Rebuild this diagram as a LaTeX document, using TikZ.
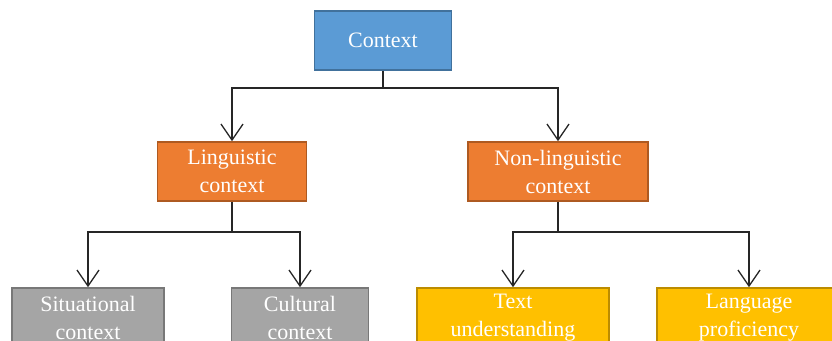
\documentclass[tikz,border=0pt]{standalone}
\usepackage{fontspec}
\setmainfont{Liberation Serif}
\usetikzlibrary{arrows.meta}
\definecolor{cblue}{HTML}{5B9BD5}
\definecolor{cblueD}{HTML}{41719C}
\definecolor{corange}{HTML}{ED7D31}
\definecolor{corangeD}{HTML}{AE5A21}
\definecolor{cgray}{HTML}{A5A5A5}
\definecolor{cgrayD}{HTML}{787878}
\definecolor{cyellow}{HTML}{FFC000}
\definecolor{cyellowD}{HTML}{BC8C00}
\definecolor{lineC}{HTML}{262626}
\tikzset{
  box/.style={draw, line width=1.6pt, minimum height=59pt, inner sep=0pt,
    align=center, text=white, font=\fontsize{22}{28}\selectfont},
  bluebox/.style={box, fill=cblue, draw=cblueD},
  orangebox/.style={box, fill=corange, draw=corangeD},
  graybox/.style={box, fill=cgray, draw=cgrayD},
  yellowbox/.style={box, fill=cyellow, draw=cyellowD},
  conn/.style={draw=lineC, line width=1.4pt},
  arr/.style={conn, -{Straight Barb[length=16pt,width=22pt,line width=1.3pt]}}
}
\begin{document}
\begin{tikzpicture}[x=1pt,y=-1pt]
\useasboundingbox (0,0) rectangle (832,340);
\clip (0,0) rectangle (832,340);
\node[bluebox, minimum width=137pt] (ctx) at (383,40.5) {Context};
\node[orangebox, minimum width=149pt] (ling) at (232,171.5) {Linguistic\\context};
\node[orangebox, minimum width=180pt] (nonling) at (558,171.5) {Non-linguistic\\context};
\node[graybox, minimum width=152pt] (sit) at (88,317.5) {Situational\\context};
\node[graybox, minimum width=137pt] (cul) at (300,317.5) {Cultural\\context};
\node[yellowbox, minimum width=192pt] (txt) at (513,317.5) {Text\\understanding};
\node[yellowbox, minimum width=184pt] (lang) at (749,317.5) {Language\\proficiency};
\coordinate (j1) at (383,88);
\coordinate (j2) at (232,232);
\coordinate (j3) at (558,232);
\draw[conn] (ctx.south) -- (j1);
\draw[arr] (j1) -| (ling.north);
\draw[arr] (j1) -| (nonling.north);
\draw[conn] (ling.south) -- (j2);
\draw[arr] (j2) -| (sit.north);
\draw[arr] (j2) -| (cul.north);
\draw[conn] (nonling.south) -- (j3);
\draw[arr] (j3) -| (txt.north);
\draw[arr] (j3) -| (lang.north);
\end{tikzpicture}
\end{document}
